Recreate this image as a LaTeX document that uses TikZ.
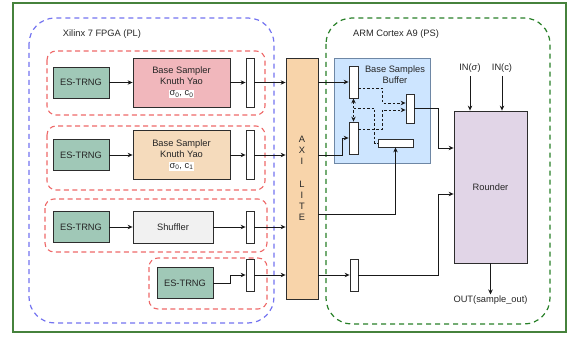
\documentclass[tikz,border=0pt]{standalone}
\usepackage{fontspec}
\setmainfont{Liberation Sans}
\usetikzlibrary{positioning,calc,arrows.meta}
\definecolor{TrngGreen}{RGB}{160,200,183}
\definecolor{SamplerPink}{RGB}{241,183,188}
\definecolor{SamplerTan}{RGB}{245,219,188}
\definecolor{ShufGray}{RGB}{241,241,241}
\definecolor{AxiOrange}{RGB}{248,212,170}
\definecolor{BufBlue}{RGB}{205,229,255}
\definecolor{BufEdge}{RGB}{110,135,165}
\definecolor{RoundLilac}{RGB}{225,213,231}
\definecolor{PLBlue}{RGB}{115,115,240}
\definecolor{GrpRed}{RGB}{238,105,105}
\definecolor{PSGreen}{RGB}{40,128,40}
\definecolor{FrameGreen}{RGB}{70,130,60}
\definecolor{EdgeGray}{RGB}{45,45,45}

\begin{document}
\begin{tikzpicture}[
    x=1pt,
    y=-1pt,
    font=\fontsize{9.3}{11}\selectfont,
    text=black!85,
    box/.style={
        draw=EdgeGray,
        line width=0.8pt,
        align=center,
        inner sep=0pt
    },
    trng/.style={
        box,
        fill=TrngGreen,
        minimum width=56pt,
        minimum height=31pt
    },
    sampler/.style={
        box,
        minimum width=97pt,
        minimum height=49pt
    },
    reg/.style={
        box,
        fill=white,
        minimum width=8pt,
        minimum height=#1
    },
    grp/.style={
        draw=GrpRed,
        line width=1.1pt,
        dash pattern=on 5pt off 3.5pt,
        rounded corners=9pt
    },
    region/.style={
        line width=1.2pt,
        dash pattern=on 5pt off 4pt,
        rounded corners=26pt
    },
    arrow/.style={
        -{Stealth[length=5pt,width=4.5pt]},
        line width=0.8pt,
        draw=black!90
    },
    darrow/.style={
        arrow,
        dash pattern=on 2.5pt off 2pt
    }
]
\useasboundingbox (0,0) rectangle (574,337);

% outer frame and the two regions
\draw[draw=FrameGreen, line width=1.1pt] (13,3) rectangle (566,332);
\draw[region, draw=PLBlue] (29,18) rectangle (274,323);
\draw[region, draw=PSGreen] (326,18) rectangle (550,324);
\node (plTitle) at (102,34) {Xilinx 7 FPGA (PL)};
\node (psTitle) at (396,34) {ARM Cortex A9 (PS)};

% PL groups
\draw[grp] (47,51) rectangle (265,115);
\draw[grp] (47,126) rectangle (265,190);
\draw[grp] (45,199) rectangle (267,252);
\draw[grp] (149,258) rectangle (267,309);

% PL row 1
\node[trng] (trngA) at (81,82.5) {ES-TRNG};
\node[sampler, fill=SamplerPink] (bsA) at (181.5,82.5)
    {Base Sampler\\Knuth Yao\\{\fboxsep=1pt\colorbox{white}{σ\textsubscript{0}, c\textsubscript{0}}}};
\node[reg=49pt] (regA) at (250,82.5) {};

% PL row 2
\node[trng] (trngB) at (81,155) {ES-TRNG};
\node[sampler, fill=SamplerTan] (bsB) at (181.5,155)
    {Base Sampler\\Knuth Yao\\{\fboxsep=1pt\colorbox{white}{σ\textsubscript{0}, c\textsubscript{1}}}};
\node[reg=49pt] (regB) at (250,155) {};

% PL row 3
\node[trng] (trngC) at (81,227) {ES-TRNG};
\node[box, fill=ShufGray, minimum width=80pt, minimum height=32pt] (shuf) at (173,227) {Shuffler};
\node[reg=32pt] (regC) at (250,227) {};

% PL row 4
\node[trng] (trngD) at (185,283) {ES-TRNG};
\node[reg=32pt] (regD) at (250,275) {};

% AXI bus
\node[box, fill=AxiOrange, minimum width=32pt, minimum height=241pt] (axi) at (302,178.5)
    {A\\X\\I\\[12pt]L\\I\\T\\E};

\draw[arrow] (trngA) -- (bsA);
\draw[arrow] (bsA) -- (regA);
\draw[arrow] (regA) -- (regA -| axi.west);
\draw[arrow] (trngB) -- (bsB);
\draw[arrow] (bsB) -- (regB);
\draw[arrow] (regB) -- (regB -| axi.west);
\draw[arrow] (trngC) -- (shuf);
\draw[arrow] (shuf) -- (regC);
\draw[arrow] (regC) -- (regC -| axi.west);
\draw[arrow] (trngD.east) -- ++(17,0) |- (regD.west);
\draw[arrow] (regD) -- (regD -| axi.west);

% PS: base samples buffer
\node[box, draw=BufEdge, fill=BufBlue, minimum width=96pt, minimum height=105pt] (buf) at (382,110.5) {};
\node[align=center, inner sep=0pt] (bufTitle) at (395,75) {Base Samples\\Buffer};
\node[reg=32pt, minimum width=9pt] (regP) at (353.5,82) {};
\node[reg=32pt, minimum width=9pt] (regQ) at (353.5,138) {};
\node[reg=29pt] (regR) at (410,108.5) {};
\node[box, fill=white, minimum width=35pt, minimum height=8pt] (regS) at (395.5,143) {};
\node[reg=32pt] (regE) at (354,275) {};

% PS: rounder
\node[box, fill=RoundLilac, minimum width=73pt, minimum height=152pt] (rounder) at (490.5,187) {Rounder};
\node (inSig) at (470,68) {IN(\textit{σ})};
\node (inC) at (502,68) {IN(c)};
\node[inner sep=1pt] (out) at (490.5,300) {OUT(sample\_out)};

\draw[arrow] (axi.east |- regP) -- (regP);
\draw[arrow] (axi.east |- regB) -- ++(24,0) |- (regQ.west);
\draw[arrow] ([yshift=-35.5pt]axi.east) -| (regS.south);
\draw[arrow] (axi.east |- regE) -- (regE);

\draw[darrow] ([yshift=-6pt]regP.east) -- ++(24,0) |- ([yshift=5.5pt]regR.west);
\draw[darrow] ([yshift=9pt]regQ.east) -- ++(24,0) |- ([yshift=-1.5pt]regR.west);
\draw[darrow, {Stealth[length=5pt,width=4.5pt]}-{Stealth[length=5pt,width=4.5pt]}] (regP) -- (regQ);
\coordinate (mid) at ($(regP.south)!0.42!(regQ.north)$);
\draw[darrow, -] (mid) -- ++(21,0) |- (regS.west);

\draw[arrow] (regR.east) -- ++(24,0) |- ([yshift=39pt]rounder.west);
\draw[arrow] (regE.east) -- ++(80,0) |- ([yshift=-7pt]rounder.west);
\draw[arrow] (inSig) -- (inSig |- rounder.north);
\draw[arrow] (inC) -- (inC |- rounder.north);
\draw[arrow] (rounder) -- (out);

\end{tikzpicture}
\end{document}
